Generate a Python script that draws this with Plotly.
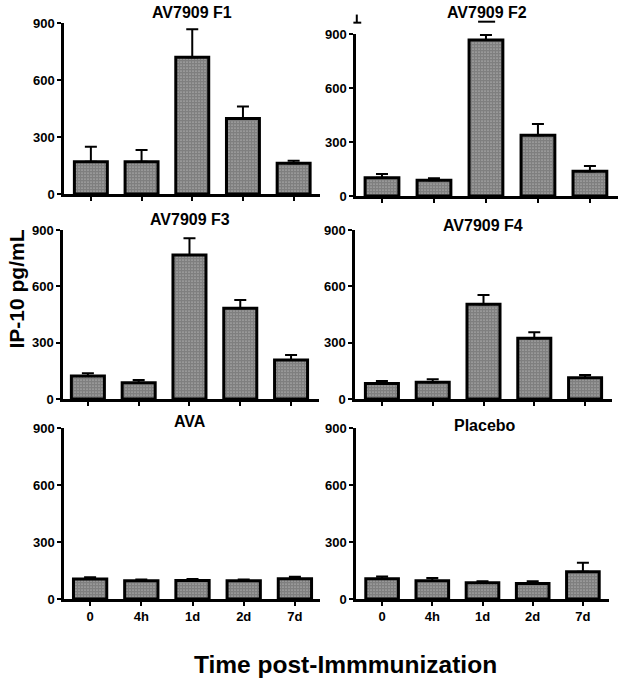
import plotly.graph_objects as go

# ---------------- data ----------------
timepoints = ["0", "4h", "1d", "2d", "7d"]
panel_titles = ["AV7909 F1", "AV7909 F2", "AV7909 F3", "AV7909 F4", "AVA", "Placebo"]

f1_mean = [170, 170, 720, 398, 162]
f1_sem = [79, 62, 147, 62, 13]
f2_mean = [102, 87, 867, 337, 137]
f2_sem = [20, 11, 27, 63, 30]
f3_mean = [122, 87, 767, 483, 208]
f3_sem = [15, 14, 89, 44, 26]
f4_mean = [83, 89, 504, 323, 113]
f4_sem = [13, 16, 50, 32, 15]
ava_mean = [105, 96, 98, 96, 107]
ava_sem = [9, 7, 7, 6, 10]
placebo_mean = [107, 96, 86, 82, 144]
placebo_sem = [12, 14, 7, 11, 47]

means = [f1_mean, f2_mean, f3_mean, f4_mean, ava_mean, placebo_mean]
sems = [f1_sem, f2_sem, f3_sem, f4_sem, ava_sem, placebo_sem]

y_ticks = [0, 300, 600, 900]

# ---------------- layout (pixels) ----------------
W, H = 624, 685
FONT = "Liberation Sans, Arial, sans-serif"

# (x_left, x_right, y_zero_px, y_900_px, xrange)
panels = [
    (64, 320, 194, 23, [-0.53, 4.52]),
    (356, 618, 196, 34, [-0.50, 4.54]),
    (63, 319, 399, 230, [-0.49, 4.55]),
    (355, 612, 399, 230, [-0.53, 4.53]),
    (64, 320, 599, 428, [-0.51, 4.49]),
    (356, 609, 599, 428, [-0.52, 4.52]),
]
title_pos = [(192, 12.5), (487, 12.5), (190, 219), (483, 226), (190, 421), (485, 425)]

fig = go.Figure()
layout = dict(
    width=W, height=H,
    margin=dict(l=0, r=0, t=0, b=0, pad=0, autoexpand=False),
    paper_bgcolor="white", plot_bgcolor="white",
    showlegend=False,
    font=dict(family=FONT, color="black"),
    annotations=[],
    shapes=[],
)

for i, (m, s) in enumerate(zip(means, sems)):
    k = "" if i == 0 else str(i + 1)
    xl, xr, y0, y9, xrng = panels[i]
    fig.add_trace(go.Bar(
        x=timepoints, y=m,
        xaxis="x" + k, yaxis="y" + k,
        width=0.65,
        marker=dict(
            color="white",
            line=dict(color="black", width=3),
            pattern=dict(shape=".", fgcolor="black", bgcolor="white", size=3, solidity=0.85),
        ),
        error_y=dict(type="data", symmetric=False, array=s, arrayminus=[0] * len(s),
                     color="black", thickness=2, width=6),
    ))
    bottom = i >= 4
    layout["xaxis" + k] = dict(
        domain=[xl / W, xr / W], anchor="y" + k,
        type="category", range=xrng, automargin=False,
        showline=True, linecolor="black", linewidth=2.5,
        ticks="outside", ticklen=4, tickwidth=2, tickcolor="black",
        showticklabels=bottom,
        tickfont=dict(family=FONT, size=13, color="black", weight="bold"),
        showgrid=False, zeroline=False, fixedrange=True,
    )
    layout["yaxis" + k] = dict(
        domain=[1 - y0 / H, 1 - y9 / H], anchor="x" + k,
        range=[0, 900], tickvals=y_ticks, automargin=False,
        showline=True, linecolor="black", linewidth=2.5,
        ticks="outside", ticklen=4, tickwidth=2, tickcolor="black",
        tickfont=dict(family=FONT, size=13, color="black", weight="bold"),
        showgrid=False, zeroline=False, fixedrange=True,
    )
    tx, ty = title_pos[i]
    layout["annotations"].append(dict(
        text=panel_titles[i], x=tx / W, y=1 - ty / H, xref="paper", yref="paper",
        xanchor="center", yanchor="middle", showarrow=False,
        font=dict(family=FONT, size=16, color="black", weight="bold"),
    ))

# small axis-break decoration above the F2 panel (relative to its domain)
brk = dict(xref="x2 domain", yref="y2 domain", type="line", line=dict(color="black", width=2))
layout["shapes"] += [
    dict(brk, x0=-0.01, x1=0.02, y0=1.07, y1=1.07),
    dict(brk, x0=0.003, x1=0.003, y0=1.07, y1=1.12),
    dict(brk, x0=0.466, x1=0.531, y0=1.076, y1=1.076),
]

layout["annotations"].append(dict(
    text="IP-10 pg/mL", x=15.5 / W, y=1 - 289 / H, xref="paper", yref="paper",
    xanchor="center", yanchor="middle", textangle=-90, showarrow=False,
    font=dict(family=FONT, size=21, color="black", weight="bold"),
))
layout["annotations"].append(dict(
    text="Time post-Immmunization", x=345 / W, y=1 - 664 / H, xref="paper", yref="paper",
    xanchor="center", yanchor="middle", showarrow=False,
    font=dict(family=FONT, size=24.5, color="black", weight="bold"),
))

fig.update_layout(**layout)
fig.write_html(
    "out.html",
    config={"displayModeBar": False},
    post_script="document.body.style.margin='0';document.body.style.padding='0';"
                "document.documentElement.style.overflow='hidden';",
)
